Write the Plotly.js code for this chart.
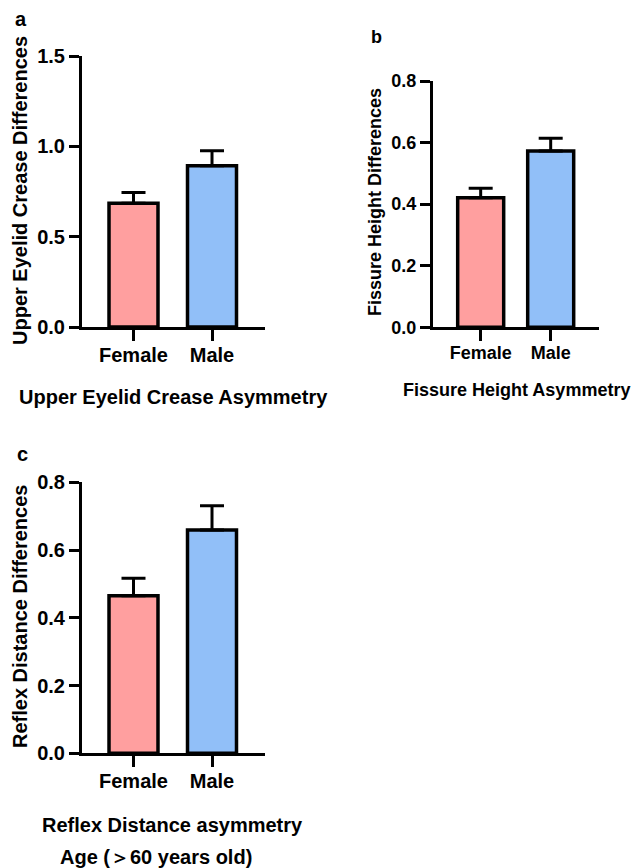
<!DOCTYPE html>
<html>
<head>
<meta charset="utf-8">
<script src="https://cdn.plot.ly/plotly-3.0.1.min.js"></script>
<style>html,body{margin:0;padding:0;background:#fff;}#chart{width:631px;height:868px;}</style>
</head>
<body>
<div id="chart"></div>
<script>
// Data
const categories = ['Female', 'Male'];
const creaseMeans = [0.685, 0.893];
const creaseErrors = [0.060, 0.083];
const fissureMeans = [0.421, 0.573];
const fissureErrors = [0.031, 0.041];
const reflexMeans = [0.465, 0.659];
const reflexErrors = [0.052, 0.072];
const creaseTicks = [0, 0.5, 1.0, 1.5];
const smallTicks = [0, 0.2, 0.4, 0.6, 0.8];

const W = 631, H = 868;
const px = v => v / W;
const py = v => 1 - v / H;

const barColors = ['#FF9F9F', '#91BFF8'];
const FONT = 'Liberation Sans, Arial, sans-serif';

function barTrace(means, errs, xa, ya, width) {
  return {
    type: 'bar',
    x: categories,
    y: means,
    width: width,
    xaxis: xa,
    yaxis: ya,
    marker: {color: barColors, line: {color: '#000', width: 3.5}},
    error_y: {type: 'data', symmetric: false, array: errs, arrayminus: [0, 0],
              color: '#000', thickness: 3, width: 12},
    hoverinfo: 'skip',
    showlegend: false
  };
}

const data = [
  barTrace(creaseMeans, creaseErrors, 'x', 'y', 0.624),
  barTrace(fissureMeans, fissureErrors, 'x2', 'y2', 0.657),
  barTrace(reflexMeans, reflexErrors, 'x3', 'y3', 0.624)
];

function xAxis(domain, range, anchor, fs, standoff) {
  return {
    domain: domain, range: range, anchor: anchor, type: 'category',
    showline: true, linecolor: '#000', linewidth: 3,
    ticks: 'outside', ticklen: 11, tickwidth: 3, tickcolor: '#000',
    ticklabelstandoff: standoff,
    showgrid: false, zeroline: false, fixedrange: true,
    tickfont: {family: FONT, size: fs, color: '#000', weight: 'bold'}
  };
}
function yAxis(domain, range, tickvals, anchor, fs) {
  return {
    domain: domain, range: range, anchor: anchor,
    tickvals: tickvals, tickformat: '.1f',
    showline: true, linecolor: '#000', linewidth: 3,
    ticks: 'outside', ticklen: 10, tickwidth: 3, tickcolor: '#000',
    showgrid: false, zeroline: false, fixedrange: true,
    tickfont: {family: FONT, size: fs, color: '#000', weight: 'bold'}
  };
}

function ann(text, x, y, size, angle) {
  return {
    text: text, xref: 'paper', yref: 'paper', x: px(x), y: py(y),
    xanchor: 'center', yanchor: 'middle', showarrow: false,
    textangle: angle || 0,
    font: {family: FONT, size: size, color: '#000', weight: 'bold'}
  };
}

const layout = {
  width: W, height: H,
  margin: {l: 0, r: 0, t: 0, b: 0},
  paper_bgcolor: '#fff', plot_bgcolor: 'rgba(0,0,0,0)',
  bargap: 0,
  xaxis: xAxis([px(82), px(265)], [-0.656, 1.675], 'y', 20, -3),
  yaxis: yAxis([py(327), py(56)], [0, 1.5], creaseTicks, 'x', 20),
  xaxis2: xAxis([px(433), px(599)], [-0.681, 1.69], 'y2', 18, -4),
  yaxis2: yAxis([py(327.3), py(81)], [0, 0.8], smallTicks, 'x2', 18),
  xaxis3: xAxis([px(82), px(265)], [-0.656, 1.675], 'y3', 20, -3),
  yaxis3: yAxis([py(753.3), py(482.3)], [0, 0.8], smallTicks, 'x3', 20),
  annotations: [
    ann('a', 21, 19, 20),
    ann('b', 376, 37, 18),
    ann('c', 22, 454, 20),
    ann('Upper Eyelid Crease Differences', 20, 191, 20, -90),
    ann('Fissure Height Differences', 375, 202, 18, -90),
    ann('Reflex Distance Differences', 20, 617, 20, -90),
    ann('Upper Eyelid Crease Asymmetry', 173, 397, 20),
    ann('Fissure Height Asymmetry', 516, 390, 18),
    ann('Reflex Distance asymmetry', 172, 825, 20),
    ann('Age (＞60 years old)', 156, 857, 20)
  ]
};

Plotly.newPlot('chart', data, layout, {displayModeBar: false, staticPlot: true});
</script>
</body>
</html>
